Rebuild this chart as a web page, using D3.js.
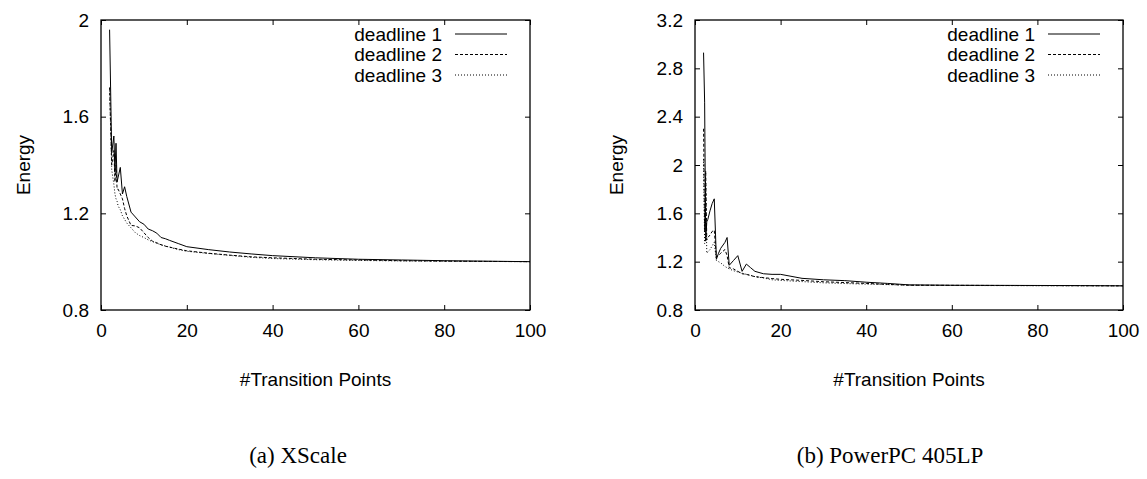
<!DOCTYPE html>
<html>
<head>
<meta charset="utf-8">
<script src="https://cdn.jsdelivr.net/npm/d3@7/dist/d3.min.js"></script>
<style>
  html, body { margin: 0; padding: 0; background: #fff; }
  svg { display: block; }
  .tick text { font-family: "Liberation Sans", Arial, sans-serif; }
</style>
</head>
<body>
<svg id="chart" width="1147" height="479"></svg>
<script>
// ---- Data ----
const seriesNames = ["deadline 1", "deadline 2", "deadline 3"];
const xTicks = [0, 20, 40, 60, 80, 100];

// (a) XScale
const xscalePoints = [2, 2.5, 3, 3.25, 3.5, 3.75, 4, 4.5, 5, 5.5, 6, 7, 8, 9, 10, 11, 12, 13, 14, 15, 16, 18, 20, 25, 30, 35, 40, 50, 60, 70, 80, 90, 100];
const xscaleDeadline1 = [1.96, 1.45, 1.52, 1.37, 1.49, 1.33, 1.35, 1.39, 1.28, 1.31, 1.27, 1.205, 1.185, 1.165, 1.155, 1.135, 1.128, 1.118, 1.10, 1.095, 1.088, 1.075, 1.062, 1.05, 1.04, 1.032, 1.025, 1.016, 1.01, 1.007, 1.004, 1.002, 1.0];
const xscaleDeadline2 = [1.72, 1.40, 1.46, 1.33, 1.40, 1.30, 1.30, 1.28, 1.26, 1.22, 1.19, 1.15, 1.148, 1.14, 1.12, 1.10, 1.085, 1.078, 1.07, 1.064, 1.06, 1.052, 1.045, 1.035, 1.027, 1.02, 1.016, 1.01, 1.007, 1.004, 1.002, 1.001, 1.0];
const xscaleDeadline3 = [1.72, 1.38, 1.32, 1.28, 1.26, 1.25, 1.23, 1.215, 1.19, 1.175, 1.16, 1.14, 1.12, 1.108, 1.10, 1.09, 1.083, 1.076, 1.07, 1.065, 1.06, 1.05, 1.043, 1.034, 1.026, 1.018, 1.013, 1.008, 1.005, 1.003, 1.002, 1.001, 1.0];
const xscaleYTicks = [0.8, 1.2, 1.6, 2];

// (b) PowerPC 405LP
const ppcPoints = [2, 2.25, 2.5, 2.75, 3, 3.5, 4, 4.5, 5, 5.5, 6, 7, 7.5, 8, 9, 10, 11, 12, 13, 14, 16, 18, 20, 25, 30, 35, 40, 45, 50, 60, 70, 80, 90, 100];
const ppcDeadline1 = [2.93, 2.52, 1.37, 1.53, 1.55, 1.62, 1.68, 1.72, 1.22, 1.27, 1.31, 1.36, 1.40, 1.17, 1.21, 1.25, 1.12, 1.18, 1.15, 1.12, 1.10, 1.095, 1.095, 1.062, 1.05, 1.043, 1.03, 1.02, 1.008, 1.005, 1.004, 1.003, 1.002, 1.0];
const ppcDeadline2 = [2.30, 1.45, 1.95, 1.38, 1.40, 1.42, 1.45, 1.46, 1.24, 1.25, 1.27, 1.30, 1.25, 1.15, 1.14, 1.12, 1.10, 1.095, 1.085, 1.076, 1.068, 1.06, 1.054, 1.045, 1.034, 1.027, 1.02, 1.012, 1.005, 1.004, 1.003, 1.002, 1.001, 1.0];
const ppcDeadline3 = [2.05, 1.35, 1.85, 1.27, 1.28, 1.30, 1.33, 1.36, 1.21, 1.20, 1.19, 1.16, 1.15, 1.14, 1.125, 1.115, 1.105, 1.095, 1.088, 1.076, 1.065, 1.05, 1.045, 1.035, 1.025, 1.019, 1.014, 1.01, 1.005, 1.003, 1.002, 1.001, 1.0, 1.0];
const ppcYTicks = [0.8, 1.2, 1.6, 2, 2.4, 2.8, 3.2];

const captions = ["(a) XScale", "(b) PowerPC 405LP"];
const xLabel = "#Transition Points";
const yLabel = "Energy";

// ---- Layout / styles ----
const dashStyles = [null, "3,2", "1,2"];
const FONT = "'Liberation Sans', Arial, Helvetica, sans-serif";
const FS = 19;

const svg = d3.select("#chart");

const panels = [
  { x0: 101, x1: 530, y0: 20, y1: 310, yDomain: [0.8, 2], yTicks: xscaleYTicks,
    pts: xscalePoints, series: [xscaleDeadline1, xscaleDeadline2, xscaleDeadline3],
    ylabX: 23, caption: captions[0], capX: 298 },
  { x0: 695, x1: 1123, y0: 20, y1: 310, yDomain: [0.8, 3.2], yTicks: ppcYTicks,
    pts: ppcPoints, series: [ppcDeadline1, ppcDeadline2, ppcDeadline3],
    ylabX: 616, caption: captions[1], capX: 890 }
];

panels.forEach(p => {
  const x = d3.scaleLinear().domain([0, 100]).range([p.x0, p.x1]);
  const y = d3.scaleLinear().domain(p.yDomain).range([p.y1, p.y0]);
  const g = svg.append("g");
  const tickLen = 5;

  // axes (ticks inward on all four sides)
  const bottom = g.append("g").attr("transform", `translate(0,${p.y1})`)
    .call(d3.axisBottom(x).tickValues(xTicks).tickSizeInner(-tickLen).tickSizeOuter(0).tickPadding(14).tickFormat(d3.format("d")));
  const top = g.append("g").attr("transform", `translate(0,${p.y0})`)
    .call(d3.axisTop(x).tickValues(xTicks).tickSizeInner(-tickLen).tickSizeOuter(0).tickFormat(""));
  const left = g.append("g").attr("transform", `translate(${p.x0},0)`)
    .call(d3.axisLeft(y).tickValues(p.yTicks).tickSizeInner(-tickLen).tickSizeOuter(0).tickPadding(12).tickFormat(d3.format("~g")));
  const right = g.append("g").attr("transform", `translate(${p.x1},0)`)
    .call(d3.axisRight(y).tickValues(p.yTicks).tickSizeInner(-tickLen).tickSizeOuter(0).tickFormat(""));
  [bottom, top, left, right].forEach(a => {
    a.select(".domain").remove();
    a.selectAll(".tick line").attr("stroke", "#000").attr("stroke-width", 1);
    a.selectAll(".tick text").attr("font-size", FS).attr("font-family", FONT).attr("fill", "#000");
  });
  // remove ticks at the corners (frame covers them)
  // frame
  g.append("rect").attr("x", p.x0).attr("y", p.y0)
    .attr("width", p.x1 - p.x0).attr("height", p.y1 - p.y0)
    .attr("fill", "none").attr("stroke", "#000").attr("stroke-width", 1.3);

  // lines
  p.series.forEach((vals, i) => {
    const data = p.pts.map((d, k) => [d, vals[k]]);
    g.append("path").datum(data)
      .attr("fill", "none").attr("stroke", "#000").attr("stroke-width", 1)
      .attr("stroke-dasharray", dashStyles[i])
      .attr("d", d3.line().x(d => x(d[0])).y(d => y(d[1])));
  });

  // legend
  const legY = [34, 54.5, 75];
  seriesNames.forEach((name, i) => {
    g.append("text").attr("x", p.x1 - 88).attr("y", legY[i])
      .attr("text-anchor", "end").attr("dominant-baseline", "central")
      .attr("font-family", FONT).attr("font-size", FS).text(name);
    g.append("line").attr("x1", p.x1 - 75).attr("x2", p.x1 - 23)
      .attr("y1", legY[i]).attr("y2", legY[i])
      .attr("stroke", "#000").attr("stroke-width", 1).attr("stroke-dasharray", dashStyles[i]);
  });

  // axis labels
  g.append("text").attr("x", (p.x0 + p.x1) / 2).attr("y", 386)
    .attr("text-anchor", "middle").attr("font-family", FONT).attr("font-size", FS).text(xLabel);
  g.append("text").attr("transform", `translate(${p.ylabX},165) rotate(-90)`)
    .attr("text-anchor", "middle").attr("dominant-baseline", "central")
    .attr("font-family", FONT).attr("font-size", FS).text(yLabel);

  // caption
  g.append("text").attr("x", p.capX).attr("y", 463)
    .attr("text-anchor", "middle").attr("font-family", "'Liberation Serif', 'Times New Roman', serif")
    .attr("font-size", 23).text(p.caption);
});
</script>
</body>
</html>
